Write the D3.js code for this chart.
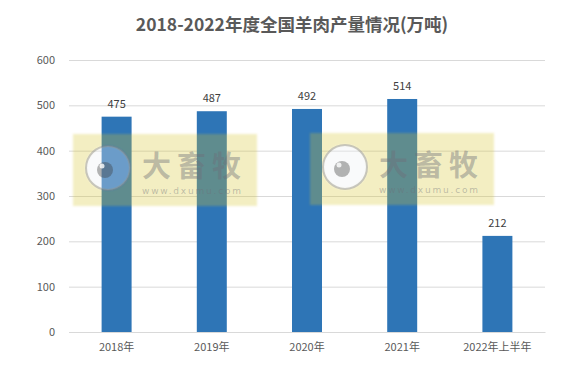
<!DOCTYPE html>
<html><head><meta charset="utf-8">
<script src="https://cdn.jsdelivr.net/npm/d3@7/dist/d3.min.js"></script>
<style>html,body{margin:0;padding:0;background:#fff;}svg{display:block;}</style>
</head><body>
<script>
const categories = ["2018年","2019年","2020年","2021年","2022年上半年"];
const values = [475, 487, 492, 514, 212];
const yTicks = [0,100,200,300,400,500,600];
const title = "2018-2022年度全国羊肉产量情况(万吨)";

const W = 570, H = 379;
const m = {left:69, right:25, top:60, bottom:47};
const font = "'Noto Sans CJK SC','Microsoft YaHei',sans-serif";
const svg = d3.select("body").append("svg").attr("width",W).attr("height",H);

const x = d3.scaleBand().domain(categories).range([m.left, W-m.right]).paddingInner(0.685).paddingOuter(0.3425);
const y = d3.scaleLinear().domain([0,600]).range([H-m.bottom, m.top]);

svg.append("text").attr("x",292).attr("y",31).attr("text-anchor","middle")
  .attr("font-family",font).attr("font-weight","bold").attr("font-size",17.5).attr("fill","#595959").text(title);

const yAxis = d3.axisLeft(y).tickValues(yTicks).tickSize(-(W-m.left-m.right)).tickPadding(14);
const gy = svg.append("g").attr("transform",`translate(${m.left},0)`).call(yAxis);
gy.select(".domain").remove();
gy.selectAll(".tick line").attr("stroke","#d9d9d9");
gy.selectAll(".tick text").attr("font-family",font).attr("font-size",11).attr("fill","#595959");

const xAxis = d3.axisBottom(x).tickSize(0).tickPadding(11);
const gx = svg.append("g").attr("transform",`translate(0,${H-m.bottom})`).call(xAxis);
gx.select(".domain").attr("stroke","#d9d9d9");
gx.selectAll(".tick text").attr("font-family",font).attr("font-size",11).attr("fill","#595959");

svg.append("g").selectAll("rect").data(values).join("rect")
  .attr("x",(d,i)=>x(categories[i])).attr("width",x.bandwidth())
  .attr("y",d=>y(d)).attr("height",d=>y(0)-y(d)).attr("fill","#2E75B6");

svg.append("g").selectAll("text").data(values).join("text")
  .attr("x",(d,i)=>x(categories[i])+x.bandwidth()/2).attr("y",d=>y(d)-9)
  .attr("text-anchor","middle").attr("font-family",font).attr("font-size",11).attr("fill","#404040")
  .text(d=>d);

// watermarks
const defs = svg.append("defs");
defs.append("filter").attr("id","blur").append("feGaussianBlur").attr("stdDeviation",1.2);
function watermark(x0, y0){
  const g = svg.append("g").attr("transform",`translate(${x0},${y0})`);
  const cx = 35, cy = 34, r = 22;
  g.append("path").attr("fill-rule","evenodd")
    .attr("d",`M0,0H184V72H0Z M${cx-r},${cy} a${r},${r} 0 1,0 ${2*r},0 a${r},${r} 0 1,0 ${-2*r},0Z`)
    .attr("fill","rgba(212,196,40,0.29)").attr("filter","url(#blur)");
  g.append("circle").attr("cx",cx).attr("cy",cy).attr("r",r).attr("fill","rgba(235,238,242,0.32)")
    .attr("stroke","rgba(140,140,140,0.45)").attr("stroke-width",2);
  g.append("circle").attr("cx",cx-3).attr("cy",cy+2).attr("r",8).attr("fill","rgba(60,60,60,0.38)");
  g.append("circle").attr("cx",cx-6).attr("cy",cy-2).attr("r",2.5).attr("fill","rgba(255,255,255,0.8)");
  g.append("text").attr("x",69).attr("y",cy+9).attr("font-family",font).attr("font-weight","bold")
    .attr("font-size",29).attr("letter-spacing",6).attr("fill","rgba(110,110,120,0.42)").text("大畜牧");
  g.append("text").attr("x",69).attr("y",cy+26).attr("font-family","'DejaVu Sans',sans-serif")
    .attr("font-size",9).attr("letter-spacing",1.8).attr("fill","rgba(110,110,120,0.42)").text("www.dxumu.com");
}
watermark(73,134);
watermark(310,133);
</script>
</body></html>
